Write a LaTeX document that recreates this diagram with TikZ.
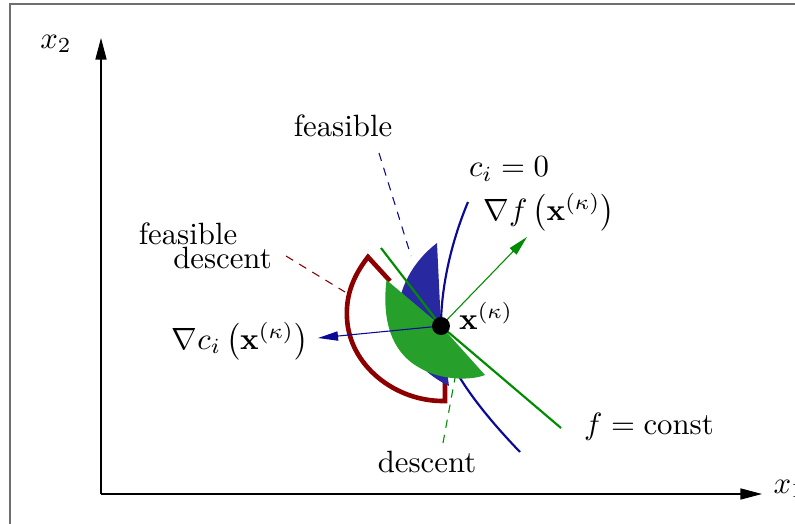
\documentclass[tikz,border=0pt]{standalone}
\usetikzlibrary{arrows.meta}
\definecolor{cblue}{RGB}{10,10,150}
\definecolor{fblue}{RGB}{40,40,160}
\definecolor{cgreen}{RGB}{0,140,0}
\definecolor{fgreen}{RGB}{38,160,42}
\definecolor{cred}{RGB}{140,0,0}
\definecolor{frame}{RGB}{110,110,110}
\begin{document}
\begin{tikzpicture}[x=0.325pt,y=-0.325pt,
  axis/.style={line width=0.4pt,-{Triangle[length=7pt,width=3.6pt]}},
  vecarrow/.style={line width=0.35pt,-{Triangle[length=6.5pt,width=3pt]}},
  dashline/.style={line width=0.35pt,dash pattern=on 2.7pt off 2.3pt},
  lbl/.style={inner sep=0pt}]
\useasboundingbox (0,0) rectangle (795,524);
\clip (0,0) rectangle (795,524);
\draw[frame,line width=0.45pt] (10,4) rectangle (840,560);
% axes
\coordinate (O) at (101,494);
\coordinate (Y) at (101,38);
\coordinate (X) at (762,494);
\draw[axis] (O) -- (Y);
\draw[axis] (O) -- (X);
\node[lbl] (lx2) at (56,44) {$x_2$};
\node[lbl,anchor=west] (lx1) at (773,489) {$x_1$};
% point
\coordinate (P) at (441,326);
% dashed direction lines
\coordinate (bd1) at (379,153); \coordinate (bd2) at (411,256);
\coordinate (rd1) at (286,256); \coordinate (rd2) at (345,292);
\coordinate (gd1) at (443,443); \coordinate (gd2) at (455,378);
\draw[dashline,cblue] (bd1) -- (bd2);
\draw[dashline,cred] (rd1) -- (rd2);
\draw[dashline,cgreen] (gd1) -- (gd2);
% red feasible descent arc
\coordinate (r1) at (390,281);
\coordinate (r2) at (368,257);
\coordinate (r3) at (445,401);
\coordinate (r4) at (445,380);
\draw[cred,line width=1.5pt] (r1) -- (r2)
  .. controls (350,280) and (346,300) .. (347,318)
  .. controls (349,365) and (395,402) .. (r3) -- (r4);
% blue feasible sector
\fill[fblue] (P) -- (437,243) .. controls (412,262) and (398,290) .. (398,315)
  .. controls (398,345) and (420,372) .. (449,386) -- cycle;
% constraint curve c_i = 0
\draw[cblue,line width=0.7pt] (468,202) .. controls (450,245) and (441,290) .. (P)
  .. controls (441,356) and (470,400) .. (520,452);
% green descent sector
\fill[fgreen] (P) -- (386.5,280) .. controls (382,318) and (390,352) .. (420,368)
  .. controls (440,380) and (470,381) .. (485,375) -- cycle;
% level line f = const
\coordinate (g1) at (381,248); \coordinate (g2) at (561,428);
\draw[cgreen,line width=0.7pt] (g1) -- (P) -- (g2);
% gradient arrows
\coordinate (gradc) at (318,338);
\coordinate (gradf) at (527,237);
\draw[vecarrow,cblue] (P) -- (gradc);
\draw[vecarrow,cgreen] (P) -- (gradf);
\fill[black] (P) circle (9);
% labels
\node[lbl] (lxk) at (486,316) {$\mathbf{x}^{(\kappa)}$};
\node[lbl] (lgc) at (240,341) {$\nabla c_i\left(\mathbf{x}^{(\kappa)}\right)$};
\node[lbl] (lgf) at (549,212) {$\nabla f\left(\mathbf{x}^{(\kappa)}\right)$};
\node[lbl] (lci) at (509,169) {$c_i=0$};
\node[lbl] (lfc) at (649,427) {$f=\mathrm{const}$};
\node[lbl] (lfe) at (343,126) {feasible};
\node[lbl] (lfd1) at (188,234) {feasible};
\node[lbl] (lfd2) at (222.5,258) {descent};
\node[lbl] (lde) at (427,462) {descent};
\end{tikzpicture}
\end{document}
